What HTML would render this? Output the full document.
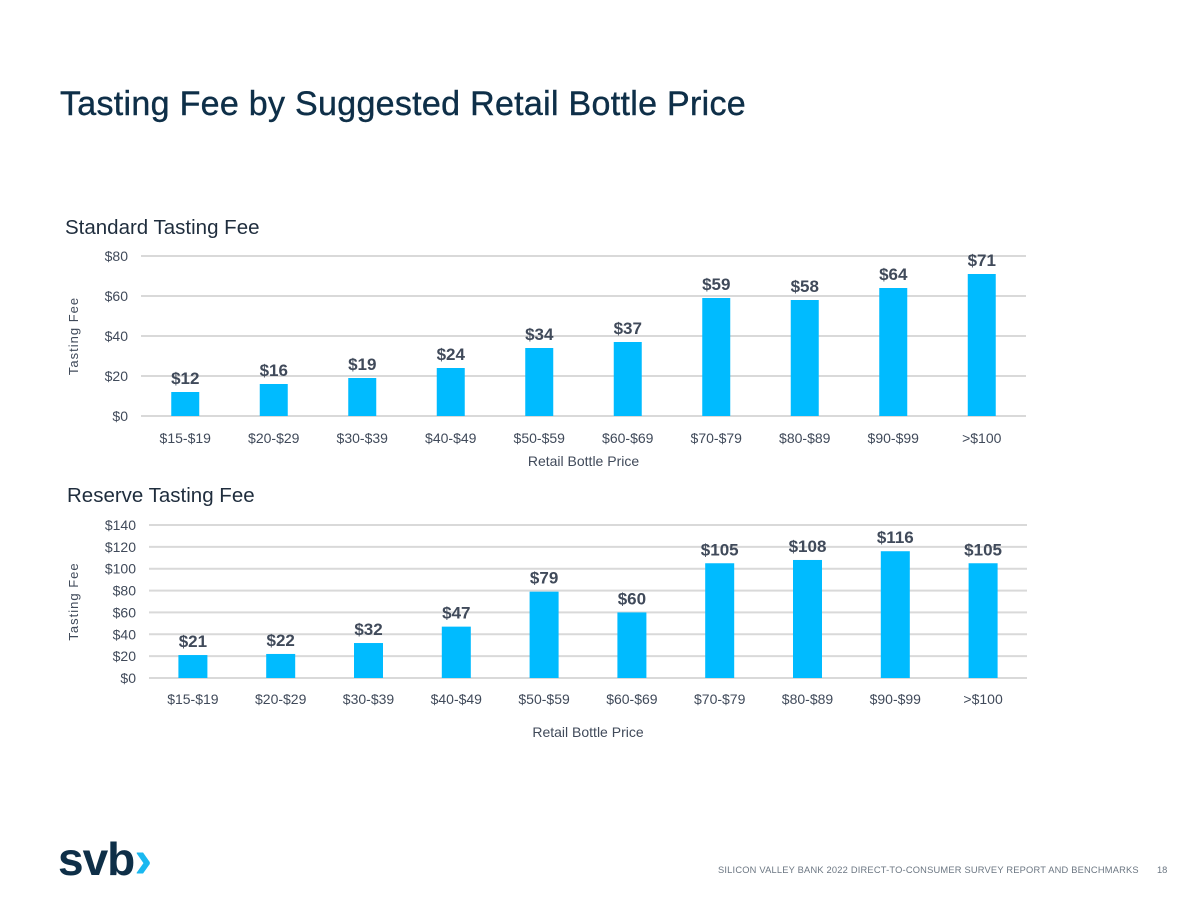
<!DOCTYPE html>
<html><head><meta charset="utf-8"><style>
body{margin:0;background:#fff;font-family:"Liberation Sans",sans-serif;}
#wrap{position:relative;width:1200px;height:900px;overflow:hidden;}
.t{position:absolute;white-space:nowrap;}
</style></head><body>
<div id="wrap">
<div class="t" style="left:60px;top:85px;font-size:34px;color:#0e2f48;letter-spacing:0.3px;-webkit-text-stroke:0.4px #0e2f48;">Tasting Fee by Suggested Retail Bottle Price</div>
<div class="t" style="left:65px;top:216px;font-size:20.5px;color:#1f2d3d;">Standard Tasting Fee</div>
<div class="t" style="left:67px;top:484px;font-size:20.5px;color:#1f2d3d;">Reserve Tasting Fee</div>
<svg id="chart" width="1200" height="900" style="position:absolute;left:0;top:0"></svg>
<div class="t" style="left:58px;top:826px;font-size:46px;font-weight:bold;color:#0e2f48;letter-spacing:-1px;">svb<span style="color:#1ab8f0;font-size:54px;position:relative;top:2px;">›</span></div>
<div class="t" style="left:718px;top:865px;font-size:9.3px;letter-spacing:0.2px;color:#6b7682;">SILICON VALLEY BANK 2022 DIRECT-TO-CONSUMER SURVEY REPORT AND BENCHMARKS</div>
<div class="t" style="left:1157px;top:865px;font-size:9.3px;color:#6b7682;">18</div>
</div>
<script>
const categories=["$15-$19","$20-$29","$30-$39","$40-$49","$50-$59","$60-$69","$70-$79","$80-$89","$90-$99",">$100"];
const standardValues=[12,16,19,24,34,37,59,58,64,71];
const reserveValues=[21,22,32,47,79,60,105,108,116,105];
const standardTicks=[0,20,40,60,80];
const reserveTicks=[0,20,40,60,80,100,120,140];
const svg=document.getElementById('chart');
const NS='http://www.w3.org/2000/svg';
function mk(tag,attrs,txt){const e=document.createElementNS(NS,tag);for(const k in attrs)e.setAttribute(k,attrs[k]);if(txt!==undefined)e.textContent=txt;svg.appendChild(e);return e;}
function drawChart(name,values,ticks,x0,x1,yb,yt,maxV,xlabY,xtitleY,ytitleX,barW){
  const step=(x1-x0)/categories.length;
  const y=v=>yb-(v/maxV)*(yb-yt);
  const x=i=>x0+step*(i+0.5);
  ticks.forEach(t=>{
    const l=mk('line',{x1:x0,x2:x1,y1:y(t),y2:y(t),stroke:'#d9d9d9','stroke-width':2});
    
    
    const tx=mk('text',{x:x0-13,y:y(t)+5,'text-anchor':'end','font-size':14,fill:'#404a5a','font-family':'Liberation Sans'},'$'+t);
    
    
  });
  values.forEach((v,i)=>{
    const r=mk('rect',{x:x(i)-barW/2,y:y(v),width:barW,height:yb-y(v),fill:'#00bbff'});
    
    
    const lb=mk('text',{x:x(i),y:y(v)-8,'text-anchor':'middle','font-size':17,'font-weight':'bold',fill:'#404a5a','font-family':'Liberation Sans'},'$'+v);
    
    
    const cl=mk('text',{x:x(i),y:xlabY,'text-anchor':'middle','font-size':14,fill:'#404a5a','font-family':'Liberation Sans'},categories[i]);
    
    
  });
  const xt=mk('text',{x:(x0+x1)/2,y:xtitleY,'text-anchor':'middle','font-size':14,fill:'#404a5a','font-family':'Liberation Sans'},'Retail Bottle Price');
  
  
  const ym=(yb+yt)/2;
  const yt2=mk('text',{x:ytitleX,y:ym,'text-anchor':'middle','font-size':13,fill:'#404a5a','letter-spacing':1,'font-family':'Liberation Sans',transform:'rotate(-90 '+ytitleX+' '+ym+')'},'Tasting Fee');
  
  
}
drawChart('standard',standardValues,standardTicks,141,1026,416,256,80,443,466,78,28);
drawChart('reserve',reserveValues,reserveTicks,149,1027,678,525,140,704,737,78,29);
</script>
</body></html>
